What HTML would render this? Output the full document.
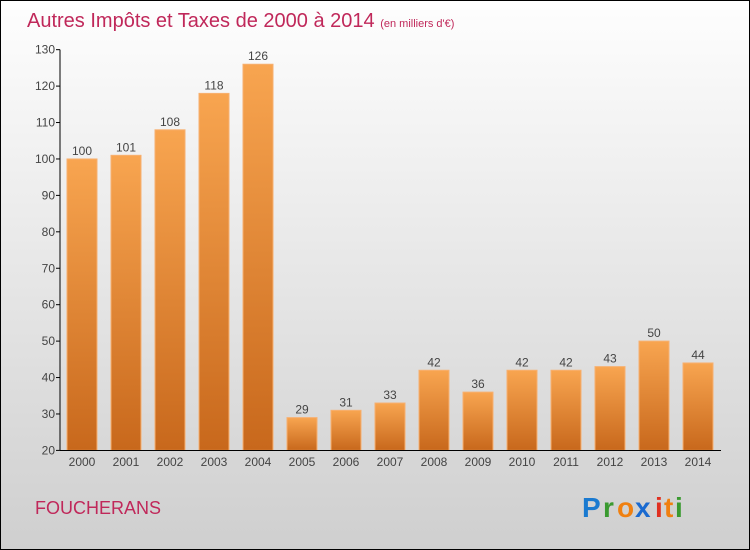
<!DOCTYPE html>
<html><head><meta charset="utf-8"><style>
body{margin:0}
#c{width:750px;height:550px;position:relative;box-sizing:border-box;border:1px solid #000;background:linear-gradient(#fefefe,#cfcfcf);font-family:"Liberation Sans",sans-serif;overflow:hidden}
</style></head><body>
<div id="c">
<svg id="s" width="750" height="550" style="position:absolute;left:-1px;top:-1px">
<defs><linearGradient id="g" x1="0" y1="0" x2="0" y2="1"><stop offset="0" stop-color="#f8a550"/><stop offset="1" stop-color="#c8681c"/></linearGradient></defs>
<text x="27" y="27" font-size="20" fill="#c0285a">Autres Impôts et Taxes de 2000 à 2014 <tspan font-size="11">(en milliers d'€)</tspan></text>
<text x="35" y="514" font-size="18" fill="#c0285a">FOUCHERANS</text>
<g font-size="28" font-weight="bold">
<text x="582" y="517" fill="#1a7ad0">P</text><text x="603" y="517" fill="#3a9a30">r</text><text x="617" y="517" fill="#f08010">o</text><text x="635" y="517" fill="#1a6ad0">x</text><text x="655" y="517" fill="#e03020">i</text><text x="664" y="517" fill="#f08010">t</text><text x="675" y="517" fill="#3a9a30">i</text>
</g>
<g id="plot"></g>
</svg></div>
<script>
const years=["2000","2001","2002","2003","2004","2005","2006","2007","2008","2009","2010","2011","2012","2013","2014"];
const values=[100,101,108,118,126,29,31,33,42,36,42,42,43,50,44];
const yTicks=[20,30,40,50,60,70,80,90,100,110,120,130];
const ns="http://www.w3.org/2000/svg",p=document.getElementById('plot');
const y=v=>450.4-(v-20)*3.643, x=i=>82+i*44;
function mk(t,a,txt){const e=document.createElementNS(ns,t);for(const k in a)e.setAttribute(k,a[k]);if(txt!=null)e.textContent=txt;p.appendChild(e);return e;}
values.forEach((v,i)=>{
const b=mk('rect',{x:x(i)-15,y:y(v),width:30,height:450.4-y(v),fill:'url(#g)',stroke:'#f7b070','stroke-width':1});


const l=mk('text',{x:x(i),y:y(v)-4,'text-anchor':'middle','font-size':12,fill:'#444'},v);


const t=mk('text',{x:x(i),y:466,'text-anchor':'middle','font-size':12,fill:'#444'},years[i]);


});
yTicks.forEach(v=>{
mk('line',{x1:56,x2:60,y1:y(v),y2:y(v),stroke:'#000'});
const t=mk('text',{x:55,y:y(v)+4,'text-anchor':'end','font-size':12,fill:'#444'},v);


});
const ya=mk('line',{x1:60,x2:60,y1:y(130),y2:450.5,stroke:'#000'});


const xa=mk('line',{x1:60,x2:721,y1:450.5,y2:450.5,stroke:'#000'});


</script>
</body></html>
